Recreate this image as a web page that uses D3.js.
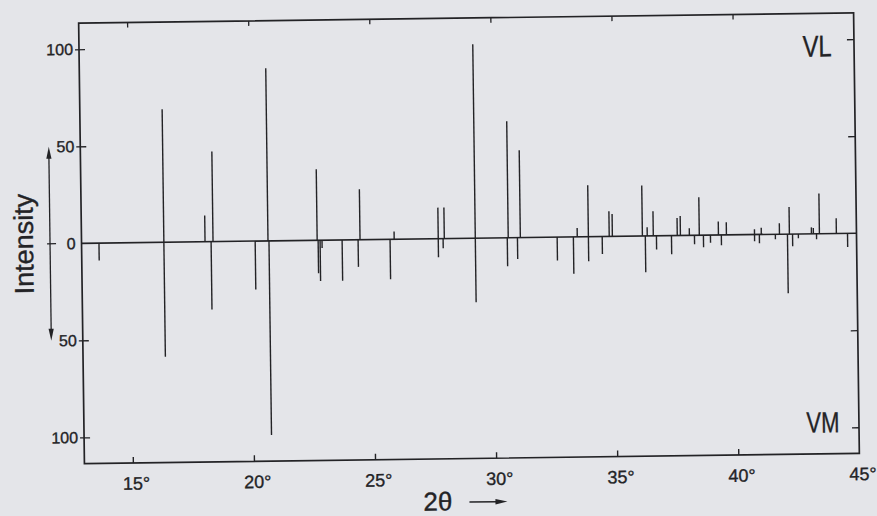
<!DOCTYPE html>
<html>
<head>
<meta charset="utf-8">
<script src="https://cdn.jsdelivr.net/npm/d3@7"></script>
<style>
  body { margin: 0; background: #e4e5e9; }
  svg { display: block; }
</style>
</head>
<body>
<div id="chart"></div>
<script>
let width = 877, height = 516;
let plot = {left: 81.5, right: 856.5, top: 18, bottom: 458.5};

// VL pattern, drawn upward (2theta in degrees, relative intensity)
let vlAngle = [16.40, 18.10, 18.43, 20.70, 22.73, 24.50, 25.91, 27.73, 27.98, 29.26,
               30.62, 31.12, 33.47, 33.93, 34.79, 34.92, 36.16, 36.36, 36.61, 37.60,
               37.73, 38.10, 38.51, 39.30, 39.63, 40.79, 41.07, 41.82, 42.23, 43.14,
               43.22, 43.47, 44.17];
let vlInt   = [68.5, 13.5, 46.5, 89, 36.6, 26, 4, 16, 16, 100,
               60, 45, 4.5, 26.5, 13, 11.5, 26, 4.5, 12.7, 9,
               10, 3.7, 19.6, 7, 6.5, 2.7, 3.5, 5.6, 14, 3.3,
               3, 20.7, 7.8];

// VM pattern, drawn downward
let vmAngle = [13.72, 16.40, 18.35, 20.17, 20.74, 22.77, 22.85, 22.93, 23.76, 24.42,
               25.74, 27.73, 27.93, 29.26, 30.58, 31.00, 32.64, 33.31, 33.93, 34.50,
               36.28, 36.74, 37.36, 38.31, 38.68, 38.97, 39.42, 40.79, 40.99, 41.65,
               42.15, 42.36, 42.60, 43.35, 44.63];
let vmInt   = [9, 59, 35, 25, 100, 17, 21, 4, 21, 14,
               20.6, 9.6, 5, 33, 14.7, 11, 12, 19, 12.7, 9,
               18.7, 7, 9.6, 4.6, 6.2, 4, 5.3, 3.5, 4.5, 2.6,
               30.5, 6.3, 2.2, 2.9, 7];

let xTicks = [15, 20, 25, 30, 35, 40, 45];
let yTicks = [100, 50, 0, -50, -100];
let yTickLabels = ["100", "50", "0", "50", "100"];
let sideTicks = [100, 50, -50, -100];

let ink = "#232326";
let font = "'Liberation Sans', Arial, sans-serif";

let svg = d3.select("#chart").append("svg")
    .attr("width", width)
    .attr("height", height);

svg.append("rect")
    .attr("width", width)
    .attr("height", height)
    .attr("fill", "#e4e5e9");

// the scanned page sits slightly tilted
let g = svg.append("g").attr("transform", "rotate(-0.75, 470, 238)");

let x = d3.scaleLinear().domain([13, 45]).range([plot.left, plot.right]);
let y = d3.scaleLinear().domain([-113.5, 113.5]).range([plot.bottom, plot.top]);

// pen lettering is a bit heavier than the plain font
function pen(sel, size) {
    sel.attr("fill", ink)
       .attr("stroke", ink)
       .attr("stroke-width", 0.35)
       .style("font-family", font)
       .style("font-size", size + "px");
}

// bottom axis with labels, ticks pointing in
let xAxis = g.append("g")
    .attr("transform", "translate(0," + plot.bottom + ")")
    .call(d3.axisBottom(x).tickValues(xTicks).tickSizeInner(-6).tickSizeOuter(0)
        .tickPadding(14).tickFormat(d => d + "°"));
xAxis.select(".domain").remove();
xAxis.selectAll("line").attr("stroke", ink).attr("stroke-width", 1.4);
xAxis.selectAll("text").attr("dx", 3).call(pen, 18);
xAxis.selectAll(".tick").filter(d => d == 45).select("line").remove();

// top axis, ticks only
let topAxis = g.append("g")
    .attr("transform", "translate(0," + plot.top + ")")
    .call(d3.axisTop(x).tickValues(xTicks.slice(0, -1)).tickSizeInner(-5).tickSizeOuter(0).tickFormat(""));
topAxis.select(".domain").remove();
topAxis.selectAll("line").attr("stroke", ink).attr("stroke-width", 1.3);

// left axis
let yAxis = g.append("g")
    .attr("transform", "translate(" + plot.left + ",0)")
    .call(d3.axisLeft(y).tickValues(yTicks).tickSizeInner(3).tickSizeOuter(0)
        .tickPadding(3).tickFormat((d, i) => yTickLabels[i]));
yAxis.select(".domain").remove();
yAxis.selectAll("line").attr("x2", 6).attr("x1", -4).attr("stroke", ink).attr("stroke-width", 1.3);
yAxis.selectAll(".tick").filter(d => d == 0).select("line").remove();
yAxis.selectAll("text").call(pen, 16);

// right axis, ticks only
let rAxis = g.append("g")
    .attr("transform", "translate(" + plot.right + ",0)")
    .call(d3.axisRight(y).tickValues(sideTicks).tickSizeInner(-7).tickSizeOuter(0).tickFormat(""));
rAxis.select(".domain").remove();
rAxis.selectAll("line").attr("stroke", ink).attr("stroke-width", 1.3);

// frame
g.append("rect")
    .attr("x", plot.left)
    .attr("y", plot.top)
    .attr("width", plot.right - plot.left)
    .attr("height", plot.bottom - plot.top)
    .attr("fill", "none")
    .attr("stroke", ink)
    .attr("stroke-width", 1.7);

// zero line
g.append("line")
    .attr("x1", plot.left).attr("x2", plot.right)
    .attr("y1", y(0)).attr("y2", y(0))
    .attr("stroke", ink)
    .attr("stroke-width", 1.6);

// sticks
g.selectAll("line.vl")
    .data(d3.zip(vlAngle, vlInt))
    .join("line")
    .attr("class", "vl")
    .attr("x1", d => x(d[0])).attr("x2", d => x(d[0]))
    .attr("y1", y(0)).attr("y2", d => y(d[1]))
    .attr("stroke", ink)
    .attr("stroke-width", 1.4);

g.selectAll("line.vm")
    .data(d3.zip(vmAngle, vmInt))
    .join("line")
    .attr("class", "vm")
    .attr("x1", d => x(d[0])).attr("x2", d => x(d[0]))
    .attr("y1", y(0)).attr("y2", d => y(-d[1]))
    .attr("stroke", ink)
    .attr("stroke-width", 1.4);

// intensity arrow on the left
let ax = 50;
g.append("line")
    .attr("x1", ax).attr("x2", ax)
    .attr("y1", y(50) + 8).attr("y2", y(-50) - 8)
    .attr("stroke", ink).attr("stroke-width", 1.3);
g.append("line")
    .attr("x1", ax - 3).attr("x2", ax + 6)
    .attr("y1", y(0)).attr("y2", y(0))
    .attr("stroke", ink).attr("stroke-width", 1.3);
g.append("path")
    .attr("d", "M" + ax + "," + y(50) + "l-2.6,12l5.2,0z")
    .attr("fill", ink);
g.append("path")
    .attr("d", "M" + ax + "," + y(-50) + "l-2.6,-12l5.2,0z")
    .attr("fill", ink);

g.append("text")
    .attr("transform", "translate(33," + y(0) + ") rotate(-90)")
    .attr("text-anchor", "middle")
    .call(pen, 27)
    .text("Intensity");

// panel labels
g.append("text")
    .attr("x", 805).attr("y", 61)
    .attr("textLength", 29).attr("lengthAdjust", "spacingAndGlyphs")
    .call(pen, 30)
    .text("VL");

g.append("text")
    .attr("x", 804).attr("y", 437)
    .attr("textLength", 33).attr("lengthAdjust", "spacingAndGlyphs")
    .call(pen, 29)
    .text("VM");

// x title with arrow
g.append("text")
    .attr("x", 420).attr("y", 510)
    .call(pen, 26)
    .text("2θ");
g.append("line")
    .attr("x1", 466).attr("x2", 494)
    .attr("y1", 502).attr("y2", 502)
    .attr("stroke", ink).attr("stroke-width", 1.5);
g.append("path")
    .attr("d", "M504,502l-12,-2.8l0,5.6z")
    .attr("fill", ink);
</script>
</body>
</html>
